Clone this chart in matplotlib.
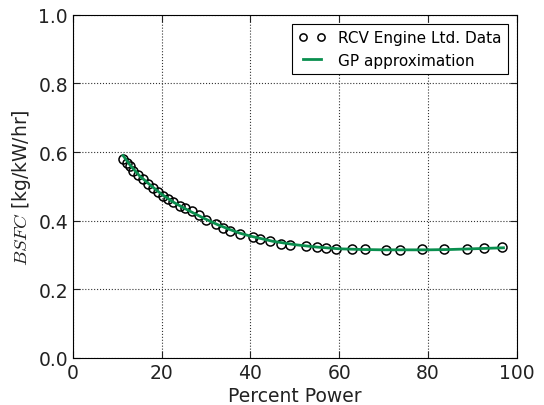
import matplotlib
matplotlib.use("Agg")
import matplotlib.pyplot as plt

power = [11.3, 12.1, 12.8, 13.6, 14.7, 15.8, 17.0, 18.1, 19.2, 20.4, 21.5, 22.6,
         24.1, 25.3, 26.8, 28.3, 30.0, 32.3, 33.8, 35.4, 37.7, 40.6, 42.2, 44.5,
         46.9, 49.0, 52.6, 54.9, 57.1, 59.2, 62.8, 65.8, 70.5, 73.7, 78.7, 83.6,
         88.7, 92.5, 96.7]
bsfc = [0.580, 0.568, 0.559, 0.546, 0.534, 0.522, 0.507, 0.495, 0.483, 0.473,
        0.464, 0.454, 0.444, 0.436, 0.427, 0.418, 0.402, 0.391, 0.380, 0.370,
        0.361, 0.353, 0.346, 0.340, 0.333, 0.330, 0.326, 0.323, 0.320, 0.318,
        0.317, 0.316, 0.315, 0.315, 0.316, 0.317, 0.318, 0.320, 0.322]

# GP approximation curve
gp_power = [11.3, 13.0, 15.0, 17.5, 20.0, 22.5, 25.0, 27.5, 30.0, 32.5, 35.0,
            37.5, 40.0, 45.0, 50.0, 55.0, 60.0, 65.0, 70.0, 75.0, 80.0, 85.0,
            90.0, 97.0]
gp_bsfc = [0.590, 0.560, 0.531, 0.503, 0.477, 0.455, 0.437, 0.420, 0.404, 0.389,
           0.376, 0.364, 0.355, 0.340, 0.330, 0.323, 0.318, 0.316, 0.315, 0.315,
           0.315, 0.316, 0.318, 0.321]

plt.rcParams["mathtext.fontset"] = "cm"
plt.rcParams["xtick.direction"] = "in"
plt.rcParams["ytick.direction"] = "in"

fig = plt.figure(figsize=(5.44, 4.06), dpi=100)
ax = fig.add_axes([0.134, 0.116, 0.816, 0.845])

ax.plot(power, bsfc, "o", mfc="none", mec="black", mew=1.1, ms=6.5,
        label="RCV Engine Ltd. Data", zorder=3)
ax.plot(gp_power, gp_bsfc, "-", color="#0a8f4f", lw=2,
        label="GP approximation", zorder=4)

ax.set_xlim(0, 100)
ax.set_ylim(0, 1.0)
ax.set_xticks([0, 20, 40, 60, 80, 100])
ax.set_yticks([0.0, 0.2, 0.4, 0.6, 0.8, 1.0])
ax.tick_params(top=True, right=True, labelsize=13.5, length=5, colors="#222222")
ax.grid(True, color="#333333", linestyle=":", linewidth=0.8)

ax.set_xlabel("Percent Power", fontsize=13.5, color="#222222", labelpad=3)
ax.set_ylabel("$BSFC$ [kg/kW/hr]", fontsize=13.5, color="#222222")

leg = ax.legend(loc="upper right", fontsize=11, numpoints=2, fancybox=False,
                framealpha=1, edgecolor="black", borderaxespad=0.6,
                handlelength=1.8, markerscale=0.8)
leg.get_frame().set_linewidth(0.8)

fig.savefig("out.png", dpi=100)
